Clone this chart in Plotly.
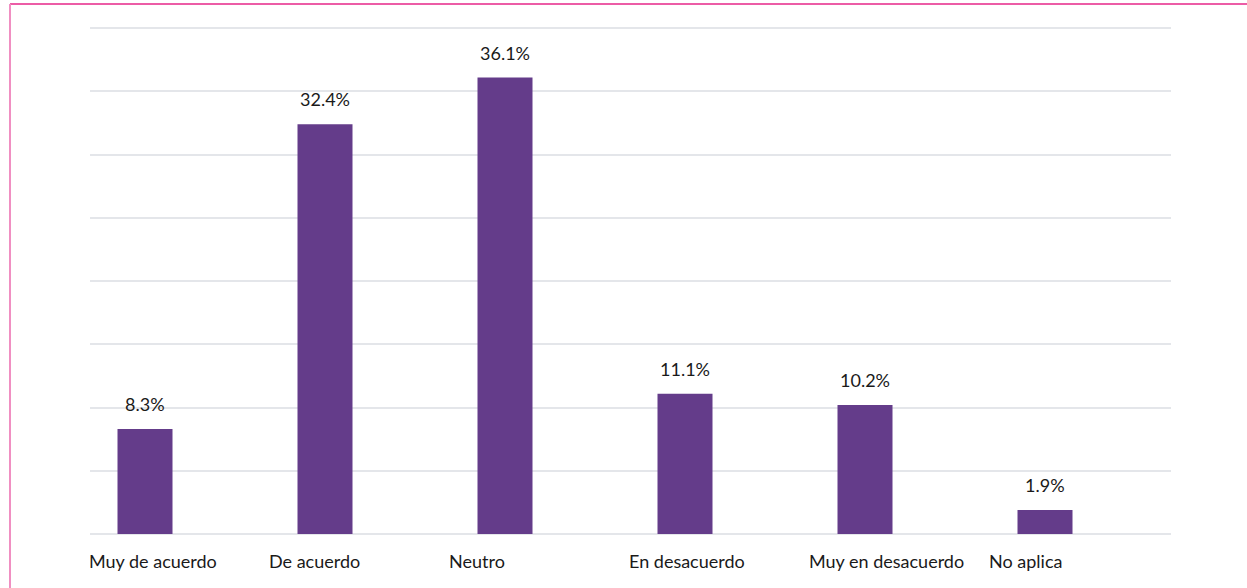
import plotly.graph_objects as go

categories = ["Muy de acuerdo", "De acuerdo", "Neutro", "En desacuerdo", "Muy en desacuerdo", "No aplica"]
values = [8.3, 32.4, 36.1, 11.1, 10.2, 1.9]
labels = ["8.3%", "32.4%", "36.1%", "11.1%", "10.2%", "1.9%"]

W, H = 1247, 588
ml, mr, mt, mb = 90, 76, 27, 54
pw, ph = W - ml - mr, H - mt - mb
FONT = "Lato, Open Sans, sans-serif"

slot_px = 180.0
bar_w = 55.0 / slot_px
x_lo = -55.0 / slot_px
x_hi = x_lo + pw / slot_px

xs = list(range(len(categories)))
fig = go.Figure(go.Bar(
    x=xs, y=values, width=bar_w,
    marker=dict(color="#643c8a", line=dict(width=0)),
    hoverinfo="skip",
))

ann = []
for i, (v, t) in enumerate(zip(values, labels)):
    ann.append(dict(x=i, y=v, xref="x", yref="y", text=t, showarrow=False,
                    xanchor="center", yanchor="bottom", yshift=12,
                    font=dict(family=FONT, size=18, color="#1a1a1a")))
    ann.append(dict(x=i + x_lo, y=0, xref="x", yref="paper", text=categories[i], showarrow=False,
                    xanchor="left", yanchor="top", yshift=-14, xshift=-3,
                    font=dict(family=FONT, size=18, color="#1a1a1a")))

def px_x(p):
    return (p - ml) / pw

def px_y(p):
    return (H - mb - p) / ph

shapes = [
    dict(type="line", xref="paper", yref="paper", x0=px_x(10), x1=px_x(W + 5), y0=px_y(4), y1=px_y(4),
         line=dict(color="#ec5ca6", width=2)),
    dict(type="line", xref="paper", yref="paper", x0=px_x(10), x1=px_x(10), y0=px_y(4), y1=px_y(H + 10),
         line=dict(color="#f08fc2", width=2)),
]

fig.update_layout(
    width=W, height=H,
    margin=dict(l=ml, r=mr, t=mt, b=mb),
    paper_bgcolor="white", plot_bgcolor="white",
    showlegend=False,
    xaxis=dict(range=[x_lo, x_hi], showticklabels=False, showgrid=False,
               zeroline=False, showline=False, ticks=""),
    yaxis=dict(range=[0, 40.1], dtick=5, showticklabels=False, showgrid=True,
               gridcolor="#e4e6ea", gridwidth=2, zeroline=True, zerolinecolor="#e4e6ea",
               zerolinewidth=2, showline=False, ticks=""),
    annotations=ann,
    shapes=shapes,
)

fig.write_html("out.html", config={"displayModeBar": False},
               post_script="document.body.style.margin='0';document.body.style.overflow='hidden';")
